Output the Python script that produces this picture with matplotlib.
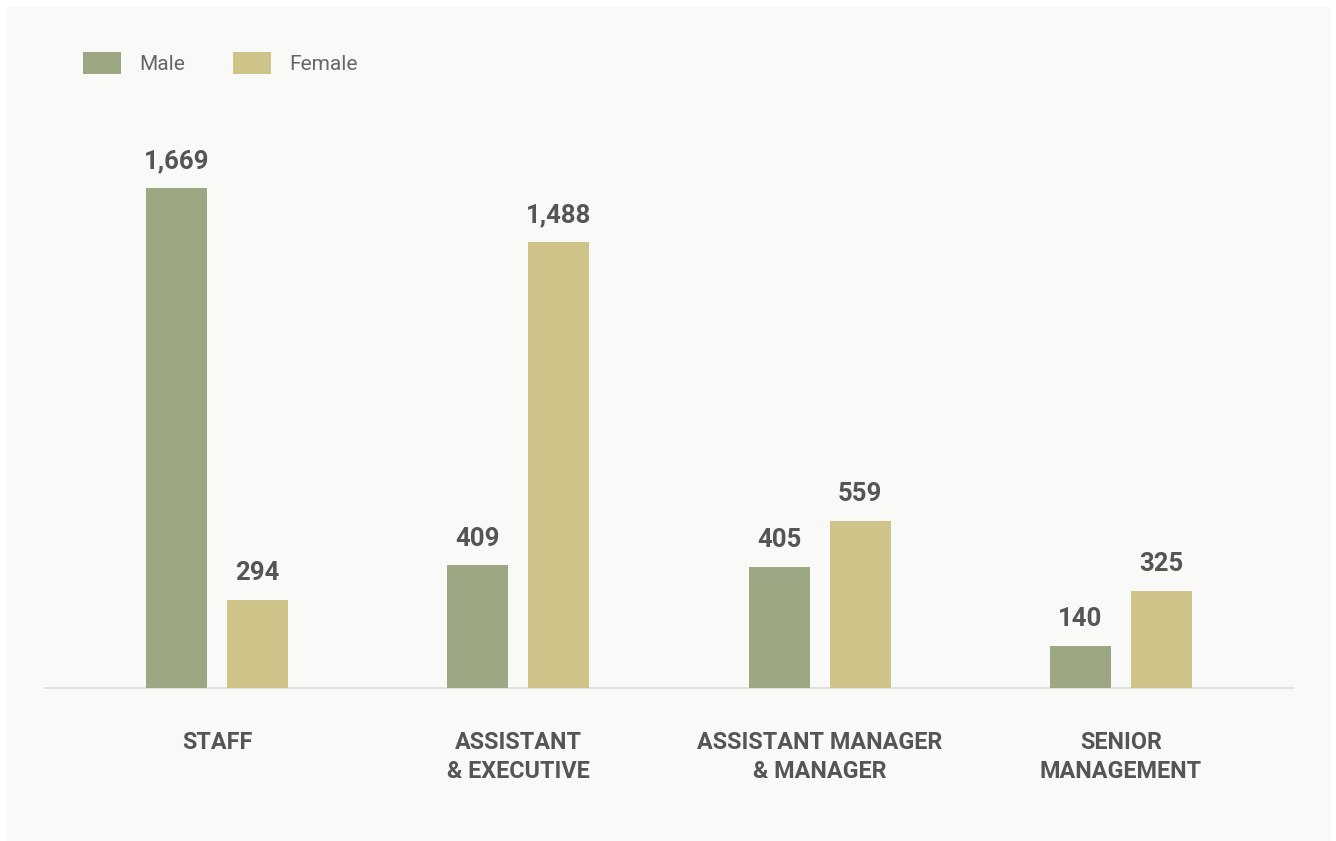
import numpy as np
import matplotlib.pyplot as plt
from matplotlib.patches import Rectangle

# Headcount by job level and gender
categories = ['STAFF', 'ASSISTANT\n& EXECUTIVE', 'ASSISTANT MANAGER\n& MANAGER', 'SENIOR\nMANAGEMENT']
male = [1669, 409, 405, 140]
female = [294, 1488, 559, 325]

male_color = '#9da783'
female_color = '#cec389'
label_color = '#555555'

plt.rcParams['font.family'] = ['Roboto', 'DejaVu Sans']

fig = plt.figure(figsize=(13.36, 8.41), dpi=100, facecolor='white')
# light panel behind the chart
fig.patches.append(Rectangle((7 / 1336, 0), 1324 / 1336, 834 / 841,
                             transform=fig.transFigure, facecolor='#f9f9f7',
                             edgecolor='none', zorder=-10))

ax = fig.add_axes([45 / 1336, 153 / 841, 1248 / 1336, 600 / 841])
ax.set_facecolor('none')

x = np.arange(len(categories))
width = 0.2025
offset = 0.1344

bars_m = ax.bar(x - offset, male, width, color=male_color, label='Male', zorder=2)
bars_f = ax.bar(x + offset, female, width, color=female_color, label='Female', zorder=2)

for bars, vals in [(bars_m, male), (bars_f, female)]:
    for b, v in zip(bars, vals):
        ax.annotate(f'{v:,}', (b.get_x() + b.get_width() / 2, v),
                    xytext=(0, 10.5), textcoords='offset points',
                    ha='center', va='bottom', fontsize=18.5, fontweight='bold',
                    color=label_color)

ax.set_xlim(-0.571, 3.571)
ax.set_ylim(0, 2003)

ax.set_xticks(x)
ax.set_xticklabels(categories, fontsize=16.8, fontweight='bold', color=label_color,
                   linespacing=1.32)
ax.tick_params(axis='x', length=0, pad=31)
ax.set_yticks([])

for side in ['top', 'right', 'left']:
    ax.spines[side].set_visible(False)
ax.spines['bottom'].set_color('#dcdcdc')
ax.spines['bottom'].set_linewidth(1.2)
ax.spines['bottom'].set_zorder(1)

leg = fig.legend(loc='upper left', bbox_to_anchor=(83 / 1336, 1 - 52 / 841),
                 ncol=2, frameon=False, fontsize=15, handlelength=1.8,
                 handleheight=1.27, handletextpad=0.9, columnspacing=2.3,
                 borderpad=0, borderaxespad=0)
for t in leg.get_texts():
    t.set_color('#666666')

fig.savefig('out.png', dpi=100, facecolor=fig.get_facecolor())
